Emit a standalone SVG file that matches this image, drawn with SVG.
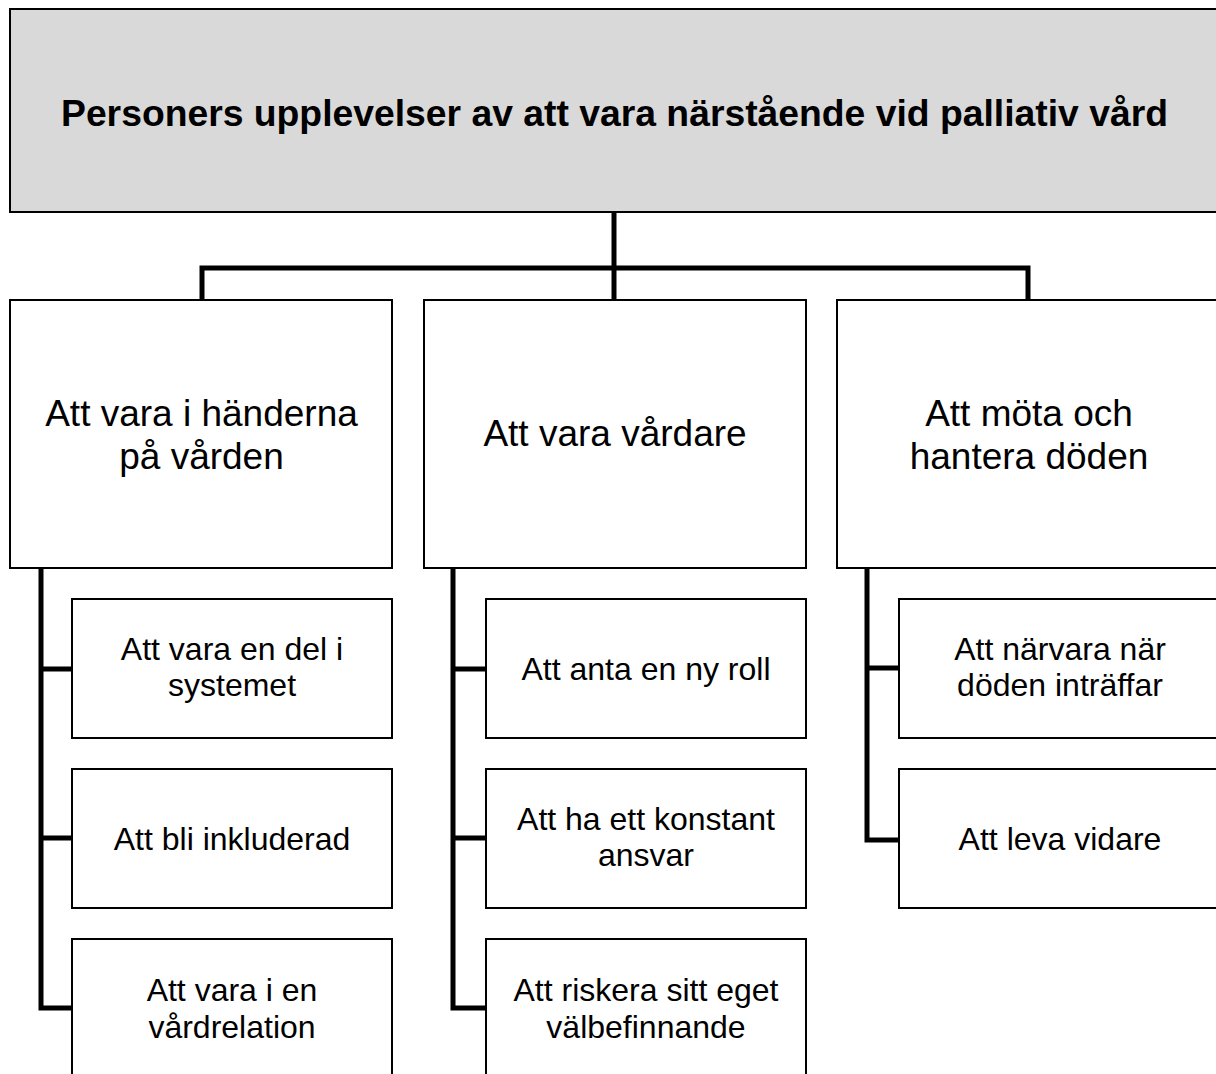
<svg xmlns="http://www.w3.org/2000/svg" width="1216" height="1074" viewBox="0 0 1216 1074">
<style>
.box{fill:#fff;stroke:#000;stroke-width:2}
.top{fill:#d9d9d9;stroke:#000;stroke-width:2}
.conn{fill:none;stroke:#000;stroke-width:5;stroke-linejoin:miter;stroke-linecap:butt}
text{font-family:"Liberation Sans",Arial,sans-serif;fill:#000;text-anchor:middle}
.t0{font-size:37.3px;font-weight:bold}
.t1{font-size:37px}
.t2{font-size:32px}
</style>
<rect width="1216" height="1074" fill="#fff"/>
<g id="connectors">
<path class="conn" d="M614,212 V268 M202,300 V268 H1028 V300 M614,268 V300"/>
<path class="conn" d="M41,568 V1008 H72 M41,669 H72 M41,838 H72"/>
<path class="conn" d="M453,568 V1008 H486 M453,669 H486 M453,838 H486"/>
<path class="conn" d="M867,568 V840 H899 M867,668 H899"/>
</g>
<g id="root">
<rect class="top" x="10" y="9" width="1210" height="203"/>
<text class="t0" x="614.5" y="126">Personers upplevelser av att vara närstående vid palliativ vård</text>
</g>
<g id="c1">
<rect class="box" x="10" y="300" width="382" height="268"/>
<text class="t1" x="201.5" y="426">Att vara i händerna</text>
<text class="t1" x="201.5" y="469">på vården</text>
</g>
<g id="c2">
<rect class="box" x="424" y="300" width="382" height="268"/>
<text class="t1" x="615" y="446">Att vara vårdare</text>
</g>
<g id="c3">
<rect class="box" x="837" y="300" width="384" height="268"/>
<text class="t1" x="1029" y="426">Att möta och</text>
<text class="t1" x="1029" y="469">hantera döden</text>
</g>
<g id="c1a">
<rect class="box" x="72" y="599" width="320" height="139"/>
<text class="t2" x="232" y="659.5">Att vara en del i</text>
<text class="t2" x="232" y="696">systemet</text>
</g>
<g id="c1b">
<rect class="box" x="72" y="769" width="320" height="139"/>
<text class="t2" x="232" y="849.5">Att bli inkluderad</text>
</g>
<g id="c1c">
<rect class="box" x="72" y="939" width="320" height="140"/>
<text class="t2" x="232" y="1001">Att vara i en</text>
<text class="t2" x="232" y="1037.5">vårdrelation</text>
</g>
<g id="c2a">
<rect class="box" x="486" y="599" width="320" height="139"/>
<text class="t2" x="646" y="679.5">Att anta en ny roll</text>
</g>
<g id="c2b">
<rect class="box" x="486" y="769" width="320" height="139"/>
<text class="t2" x="646" y="829.5">Att ha ett konstant</text>
<text class="t2" x="646" y="866">ansvar</text>
</g>
<g id="c2c">
<rect class="box" x="486" y="939" width="320" height="140"/>
<text class="t2" x="646" y="1001">Att riskera sitt eget</text>
<text class="t2" x="646" y="1037.5">välbefinnande</text>
</g>
<g id="c3a">
<rect class="box" x="899" y="599" width="322" height="139"/>
<text class="t2" x="1060" y="659.5">Att närvara när</text>
<text class="t2" x="1060" y="696">döden inträffar</text>
</g>
<g id="c3b">
<rect class="box" x="899" y="769" width="322" height="139"/>
<text class="t2" x="1060" y="849.5">Att leva vidare</text>
</g>
</svg>
